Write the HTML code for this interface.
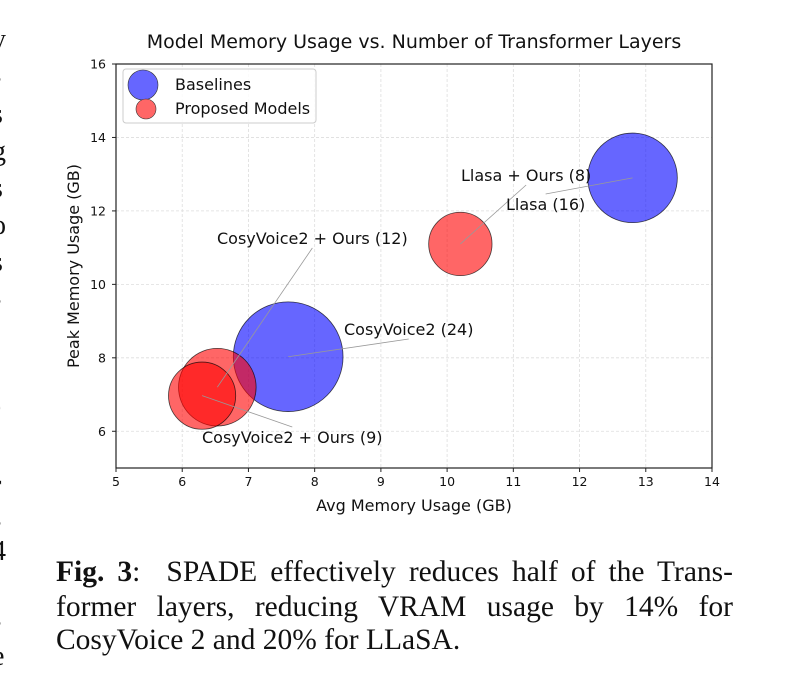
<!DOCTYPE html>
<html><head><meta charset="utf-8"><style>
html,body{margin:0;padding:0;background:#fff;}
svg{display:block;position:absolute;left:0;top:0;}
.cap{position:absolute;left:56px;width:677px;font-family:"Liberation Serif",serif;font-size:29.5px;color:#111;text-align:justify;text-align-last:justify;white-space:nowrap;line-height:34px;}
.cap.last{text-align-last:left;}
</style></head><body>
<svg id="fig" width="789" height="690" viewBox="0 0 789 690" xmlns="http://www.w3.org/2000/svg" font-family="'DejaVu Sans', 'Liberation Sans', sans-serif">
<g font-family="'Liberation Serif', serif" font-size="28" fill="#111">
<text x="-8" y="48">y</text><text x="-8" y="86">-</text><text x="-8" y="123">s</text><text x="-8" y="160">g</text><text x="-8" y="197">s</text><text x="-8" y="234">o</text><text x="-8" y="271">s</text><text x="-8" y="308">-</text><text x="-8" y="415">)</text><text x="-8" y="494">r</text><text x="-8" y="530">-</text><text x="-8" y="560">4</text><text x="-8" y="595">t</text><text x="-8" y="630">-</text><text x="-8" y="665">e</text>
</g>
<text x="414" y="48" text-anchor="middle" font-size="19" fill="#111">Model Memory Usage vs. Number of Transformer Layers</text>
<g id="grid"></g>
<g id="marks"></g>
<g id="annos"></g>
<rect x="116" y="64" width="596" height="404" fill="none" stroke="#222" stroke-width="1.2"/>
<g id="ticks" font-size="12.5" fill="#111"></g>
<text x="414" y="511" text-anchor="middle" font-size="16" fill="#111">Avg Memory Usage (GB)</text>
<text transform="translate(79,266) rotate(-90)" text-anchor="middle" font-size="16" fill="#111">Peak Memory Usage (GB)</text>
<g>
<rect x="123" y="69" width="193" height="54" rx="3" fill="#fff" fill-opacity="0.85" stroke="#ccc"/>
<circle cx="143" cy="85" r="15" fill="#6666ff" stroke="#333" stroke-width="0.6"/>
<text x="175" y="90" font-size="16" fill="#111">Baselines</text>
<circle cx="146" cy="109" r="10" fill="#ff6666" stroke="#333" stroke-width="0.6"/>
<text x="175" y="114" font-size="16" fill="#111">Proposed Models</text>
</g>
</svg>
<div>
<div class="cap" style="top:555px;"><b>Fig. 3</b>:&nbsp; SPADE effectively reduces half of the Trans-</div>
<div class="cap" style="top:590px;">former layers, reducing VRAM usage by 14% for</div>
<div class="cap last" style="top:623px;">CosyVoice 2 and 20% for LLaSA.</div>
</div>
<script>
const names = ["CosyVoice2 + Ours (12)", "CosyVoice2 + Ours (9)", "CosyVoice2 (24)", "Llasa + Ours (8)", "Llasa (16)"];
const avgMem = [6.53, 6.3, 7.6, 10.2, 12.8];
const peakMem = [7.2, 6.97, 8.03, 11.1, 12.9];
const layers = [12, 9, 24, 8, 16];
const groups = ["proposed", "proposed", "baseline", "proposed", "baseline"];
const labelX = [217, 202, 344, 461, 506];
const labelY = [244, 443, 335, 181, 210];
const xTicks = [5, 6, 7, 8, 9, 10, 11, 12, 13, 14];
const yTicks = [6, 8, 10, 12, 14, 16];

const NS = "http://www.w3.org/2000/svg";
const X0 = 116, X1 = 712, Y0 = 468, Y1 = 64;
const xMin = 5, xMax = 14, yMin = 5, yMax = 16;
const sx = v => X0 + (v - xMin) / (xMax - xMin) * (X1 - X0);
const sy = v => Y0 - (v - yMin) / (yMax - yMin) * (Y0 - Y1);
const rs = l => 11.2 * Math.sqrt(l);
function mk(tag, attrs, parent) {
  const e = document.createElementNS(NS, tag);
  for (const k in attrs) e.setAttribute(k, attrs[k]);
  parent.appendChild(e);
  return e;
}
const grid = document.getElementById("grid"), ticks = document.getElementById("ticks");
xTicks.forEach(t => {
  const x = sx(t);
  const g = mk("line", {x1: x, x2: x, y1: Y1, y2: Y0, stroke: "#ddd", "stroke-width": 0.8, "stroke-dasharray": "3,2"}, grid);
  
  
  const tk = mk("line", {x1: x, x2: x, y1: Y0, y2: Y0 + 4, stroke: "#222"}, ticks);
  
  
  const tl = mk("text", {x: x, y: Y0 + 18, "text-anchor": "middle"}, ticks);
  tl.textContent = t;
  
  
});
yTicks.forEach(t => {
  const y = sy(t);
  const g = mk("line", {x1: X0, x2: X1, y1: y, y2: y, stroke: "#ddd", "stroke-width": 0.8, "stroke-dasharray": "3,2"}, grid);
  
  
  const tk = mk("line", {x1: X0 - 4, x2: X0, y1: y, y2: y, stroke: "#222"}, ticks);
  
  
  const tl = mk("text", {x: X0 - 10, y: y + 4.5, "text-anchor": "end"}, ticks);
  tl.textContent = t;
  
  
});
const marks = document.getElementById("marks"), annos = document.getElementById("annos");
const order = [2, 4, 0, 1, 3];
order.forEach(i => {
  const c = mk("circle", {cx: sx(avgMem[i]), cy: sy(peakMem[i]), r: rs(layers[i]),
    fill: groups[i] === "baseline" ? "#0000ff" : "#ff0000", "fill-opacity": 0.6,
    stroke: "#000", "stroke-opacity": 0.7, "stroke-width": 0.8}, marks);
  
  
});
names.forEach((n, i) => {
  const t = mk("text", {x: labelX[i], y: labelY[i], "font-size": 16, fill: "#111"}, annos);
  t.textContent = n;
  
  
  const w = t.getComputedTextLength ? t.getComputedTextLength() : 130;
  const cx = sx(avgMem[i]), cy = sy(peakMem[i]);
  const tx = labelX[i] + w / 2;
  const above = cy > labelY[i] - 5;
  const sy0 = above ? labelY[i] + 4 : labelY[i] - 16;
  const ln = mk("line", {x1: tx, y1: sy0, x2: cx, y2: cy, stroke: "#999", "stroke-width": 0.8}, annos);
  
  
});
</script>
</body></html>
